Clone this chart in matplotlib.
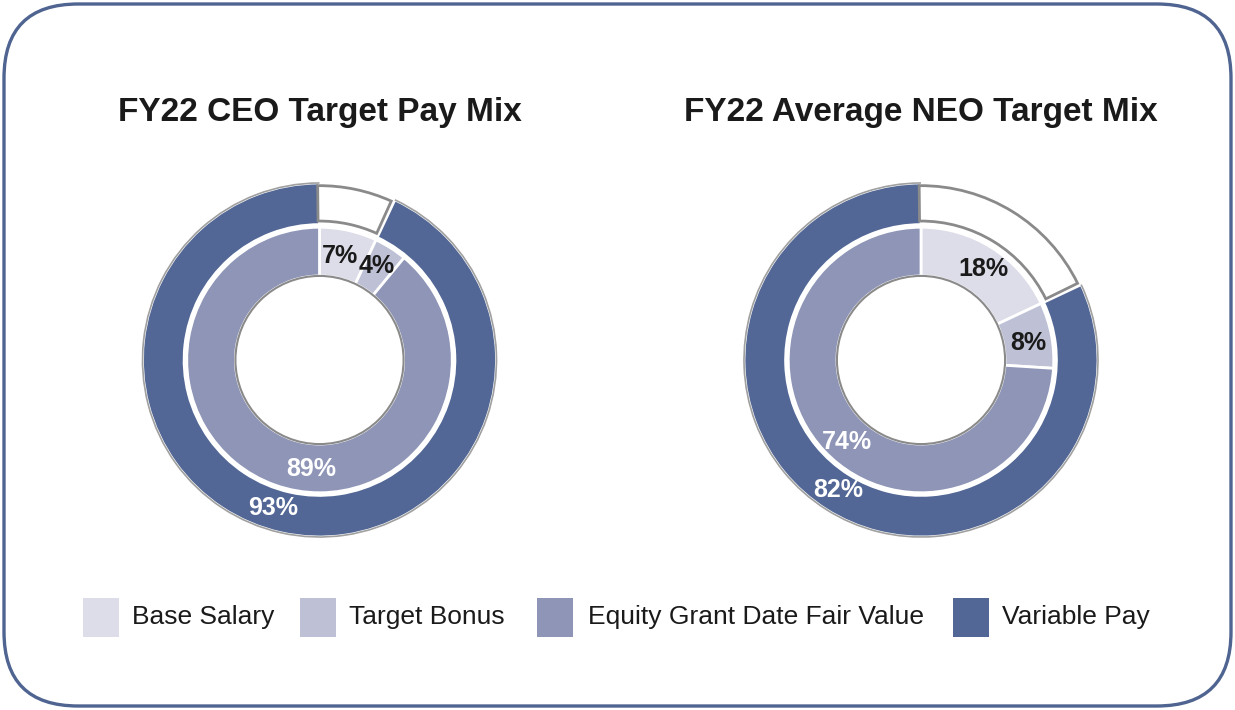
import matplotlib.pyplot as plt
from matplotlib.patches import FancyBboxPatch, Rectangle, Circle, Wedge, Arc

plt.rcParams['font.family'] = ['Liberation Sans', 'DejaVu Sans']

W, H = 1235, 710

titles = ['FY22 CEO Target Pay Mix', 'FY22 Average NEO Target Mix']
legend_labels = ['Base Salary', 'Target Bonus', 'Equity Grant Date Fair Value', 'Variable Pay']

# outer ring: fixed pay (blank) vs variable pay
outer_vals = [[7, 93], [18, 82]]
# inner ring: base salary, target bonus, equity
inner_vals = [[7, 4, 89], [18, 8, 74]]

c_base = '#dcdde8'
c_bonus = '#bec1d6'
c_equity = '#8e95b6'
c_var = '#526795'
c_edge = '#8a8a8a'
c_frame = '#4f6490'

fig = plt.figure(figsize=(W / 100, H / 100), dpi=100)

# rounded frame
frame = FancyBboxPatch((4 / W, 4 / H), (W - 8) / W, (H - 8) / H,
                       boxstyle='round,pad=0,rounding_size=0.06',
                       transform=fig.transFigure, facecolor='white',
                       edgecolor=c_frame, linewidth=2.4, mutation_aspect=W / H,
                       zorder=-10)
fig.patches.append(frame)

centers = [(319.5, 360), (921, 360)]
R = 177  # outer radius in px
lim = 1.03

# label positions (px)
inner_lbl = [[(340, 256), (377, 266), (311, 469)],
             [(983, 269), (1028, 343), (847, 442)]]
outer_lbl = [(273, 508), (838, 490)]

for k in range(2):
    cx, cy = centers[k]
    size = 2 * lim * R
    ax = fig.add_axes([(cx - size / 2) / W, (H - cy - size / 2) / H, size / W, size / H])
    ax.patch.set_visible(False)

    ax.pie(outer_vals[k], radius=1.0, startangle=90, counterclock=False,
           colors=['white', c_var],
           wedgeprops=dict(width=0.235, edgecolor='white', linewidth=2))

    frac = outer_vals[k][0] / sum(outer_vals[k])
    # grey outline of the blank (fixed pay) slice, slightly inset
    ax.add_patch(Wedge((0, 0), 0.985, 90 - 360 * frac + 0.9, 90 + 0.6, width=0.2,
                       facecolor='none', edgecolor=c_edge, linewidth=2, zorder=4))
    # thin grey rim along the variable pay slice only
    ax.add_patch(Arc((0, 0), 2.0, 2.0, theta1=90, theta2=450 - 360 * frac,
                     edgecolor='#a0a0a0', linewidth=1.2, zorder=4))

    ax.pie(inner_vals[k], radius=0.75, startangle=90, counterclock=False,
           colors=[c_base, c_bonus, c_equity],
           wedgeprops=dict(width=0.275, edgecolor='white', linewidth=2))

    ax.add_patch(Circle((0, 0), 0.475, fill=False, edgecolor=c_edge, linewidth=1.5))

    ax.set_xlim(-lim, lim)
    ax.set_ylim(-lim, lim)
    ax.set_aspect('equal')
    ax.axis('off')

    for j, (px, py) in enumerate(inner_lbl[k]):
        col = 'white' if j == 2 else '#1a1a1a'
        fig.text(px / W, 1 - py / H, f'{inner_vals[k][j]}%', ha='center', va='center',
                 fontsize=18, fontweight='bold', color=col)
    px, py = outer_lbl[k]
    fig.text(px / W, 1 - py / H, f'{outer_vals[k][1]}%', ha='center', va='center',
             fontsize=18, fontweight='bold', color='white')

    fig.text(cx / W, 1 - 112 / H, titles[k], ha='center', va='center',
             fontsize=24, fontweight='bold', color='#1a1a1a')

# legend, placed by hand
sq_x = [83, 300, 537, 953]
txt_x = [132, 349, 588, 1002]
for c, sx, tx, lab in zip([c_base, c_bonus, c_equity, c_var], sq_x, txt_x, legend_labels):
    fig.patches.append(Rectangle((sx / W, 1 - 637 / H), 36 / W, 39 / H,
                                 transform=fig.transFigure, facecolor=c, edgecolor='none'))
    fig.text(tx / W, 1 - 617 / H, lab, ha='left', va='center', fontsize=19, color='#1a1a1a')

fig.savefig('out.png', dpi=100)
